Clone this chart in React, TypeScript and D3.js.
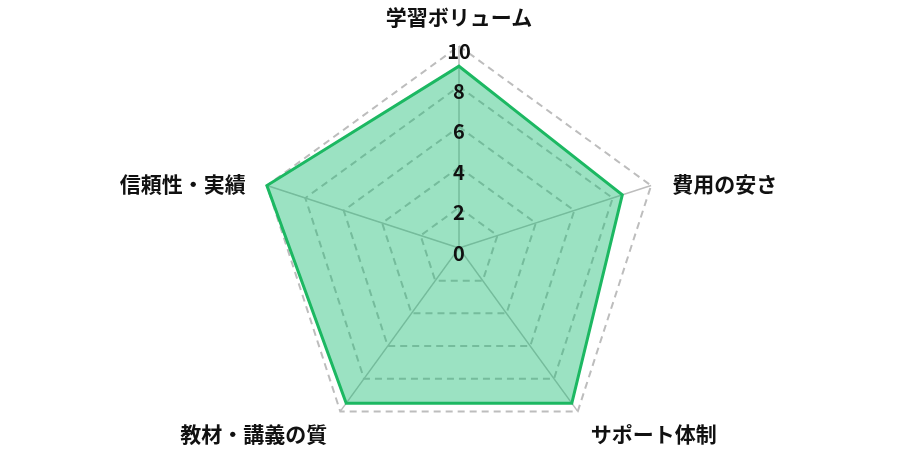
import React, { useEffect, useRef } from 'react';
import * as d3 from 'd3';

const categories = ['学習ボリューム', '費用の安さ', 'サポート体制', '教材・講義の質', '信頼性・実績'];
const scores = [9, 8.5, 9.5, 9.5, 10];
const tickValues = [0, 2, 4, 6, 8, 10];

const RadarChart = () => {
  const ref = useRef<SVGSVGElement | null>(null);

  useEffect(() => {
    draw();
  });

  const draw = () => {
    const width = 900;
    const height = 450;
    const cx = 459;
    const cy = 248;
    const radius = 202;
    const font = '"Noto Sans CJK JP", "Noto Sans", sans-serif';

    const svg = d3.select(ref.current);
    svg.selectAll('*').remove();
    svg.attr('width', width).attr('height', height);

    const r = d3.scaleLinear().domain([0, 10]).range([0, radius]);
    const angle = d3
      .scalePoint<string>()
      .domain(categories)
      .range([0, 2 * Math.PI * (1 - 1 / categories.length)]);

    const pt = (cat: string, v: number): [number, number] => {
      const a = angle(cat) || 0;
      return [cx + r(v) * Math.sin(a), cy - r(v) * Math.cos(a)];
    };

    const g = svg.append('g');

    // dashed rings
    tickValues
      .filter((t) => t > 0)
      .forEach((t) => {
        g.append('polygon')
          .attr('points', categories.map((c) => pt(c, t).join(',')).join(' '))
          .attr('fill', 'none')
          .attr('stroke', '#bdbdbd')
          .attr('stroke-width', 2)
          .attr('stroke-dasharray', '7,5');
      });

    // angle lines
    categories.forEach((c) => {
      const [x, y] = pt(c, 10);
      g.append('line')
        .attr('x1', cx)
        .attr('y1', cy)
        .attr('x2', x)
        .attr('y2', y)
        .attr('stroke', '#bdbdbd')
        .attr('stroke-width', 1.5);
    });

    // data area
    const line = d3
      .lineRadial<number>()
      .angle((_, i) => angle(categories[i]) || 0)
      .radius((d) => r(d))
      .curve(d3.curveLinearClosed);

    g.append('path')
      .attr('transform', `translate(${cx},${cy})`)
      .attr('d', line(scores) || '')
      .attr('fill', 'rgba(16,185,110,0.42)')
      .attr('stroke', '#1cb862')
      .attr('stroke-width', 3)
      .attr('stroke-linejoin', 'miter');

    // tick labels
    tickValues.forEach((t) => {
      g.append('text')
        .attr('x', cx)
        .attr('y', cy - r(t) + 4)
        .attr('text-anchor', 'middle')
        .attr('dominant-baseline', 'central')
        .attr('font-family', font)
        .attr('font-size', 20)
        .attr('font-weight', 700)
        .attr('fill', '#111')
        .text(String(t));
    });

    // point labels
    categories.forEach((c) => {
      const a = angle(c) || 0;
      const [x, y] = pt(c, 10 + 22 / 20);
      const s = Math.sin(a);
      const cos = Math.cos(a);
      let anchor = 'middle';
      if (s > 0.1) anchor = 'start';
      else if (s < -0.1) anchor = 'end';
      let dy = 4;
      if (cos > 0.9) dy = -8;
      g.append('text')
        .attr('x', x)
        .attr('y', y + dy)
        .attr('text-anchor', anchor)
        .attr('dominant-baseline', 'central')
        .attr('font-family', font)
        .attr('font-size', 21)
        .attr('font-weight', 700)
        .attr('fill', '#111')
        .text(c);
    });
  };

  return <svg ref={ref} style={{ position: 'fixed', left: 0, top: 0, display: 'block' }} />;
};

export default function App() {
  return <RadarChart />;
}
